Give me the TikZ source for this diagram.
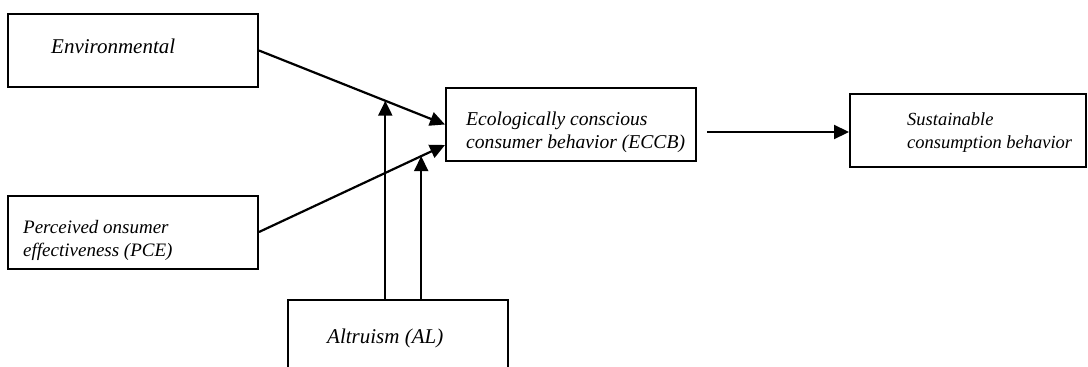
\documentclass[tikz,border=0pt]{standalone}
\usepackage{fontspec}
\setmainfont{Liberation Serif}
\usetikzlibrary{arrows.meta,calc}
\tikzset{
    box/.style={draw,rectangle,line width=2pt,inner sep=0pt,minimum width=250pt,minimum height=73pt},
    lbl/.style={anchor=base west,align=left,inner sep=0pt,font=\fontsize{#1}{23}\selectfont\itshape},
    lbl/.default=20,
    arr/.style={line width=2.2pt,-{Triangle[length=15pt,width=14pt]}}
}
\begin{document}
\begin{tikzpicture}[x=1pt,y=-1pt]
    \useasboundingbox (0,0) rectangle (1088,367);
    \clip (0,0) rectangle (1088,367);
    % boxes
    \node[box] (env) at (133,50.5) {};
    \node[box] (pce) at (133,232) {};
    \node[box] (eccb) at (571,124.5) {};
    \node[box,minimum width=236pt] (sus) at (968,130.5) {};
    \node[box,minimum width=220pt,minimum height=120pt] (al) at (398,360) {};
    % texts (placed at the baseline of the last line)
    \node[lbl=21] (envtxt) at (51,53) {Environmental};
    \node[lbl=19] (pcetxt) at (23,256) {Perceived onsumer\\effectiveness (PCE)};
    \node[lbl=19.6] (eccbtxt) at (466,148) {Ecologically conscious\\consumer behavior (ECCB)};
    \node[lbl=18.5] (sustxt) at (907,148) {Sustainable\\consumption behavior};
    \node[lbl=21] (altxt) at (327,343) {Altruism (AL)};
    % arrows
    \coordinate (e2) at ($(eccb.west)+(0,20.5)$);
    \draw[arr] (env.east) -- coordinate[pos=0.679] (m1) (eccb.west);
    \draw[arr] (pce.east) -- coordinate[pos=0.872] (m2) (e2);
    \draw[arr] (m1 |- al.north) -- (m1);
    \draw[arr] (m2 |- al.north) -- (m2);
    \coordinate (s0) at ($(eccb.east)+(10,7.5)$);
    \draw[arr] (s0) -- (s0 -| sus.west);
\end{tikzpicture}
\end{document}
